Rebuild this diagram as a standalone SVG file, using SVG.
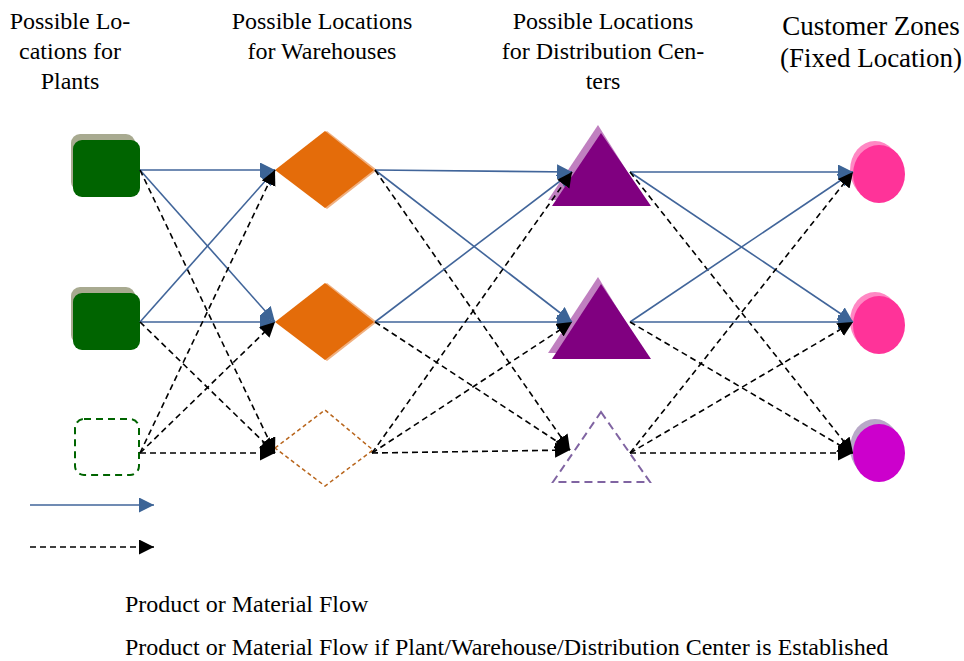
<svg xmlns="http://www.w3.org/2000/svg" width="964" height="661" viewBox="0 0 964 661">
  <style>
    .hdr { font-family: "Liberation Serif", "Times New Roman", serif; font-size: 24px; fill: #000; text-anchor: middle; }
    .hdr2 { font-family: "Liberation Serif", "Times New Roman", serif; font-size: 27px; fill: #000; text-anchor: middle; }
    .lbl { font-family: "Liberation Serif", "Times New Roman", serif; font-size: 24px; fill: #000; }
    .flow { fill: none; stroke: #41659a; stroke-width: 1.6; marker-end: url(#blueHead); }
    .opt { fill: none; stroke: #000; stroke-width: 1.6; stroke-dasharray: 6 4; marker-end: url(#blackHead); }
  </style>
  <defs>
    <marker id="blueHead" markerUnits="userSpaceOnUse" markerWidth="16" markerHeight="16" refX="15" refY="7.5" orient="auto">
      <path d="M0,0 L15,7.5 L0,15 z" fill="#3c6496"/>
    </marker>
    <marker id="blackHead" markerUnits="userSpaceOnUse" markerWidth="16" markerHeight="16" refX="15" refY="7.5" orient="auto">
      <path d="M0,0 L15,7.5 L0,15 z" fill="#000"/>
    </marker>
  </defs>

  <rect width="964" height="661" fill="#fff"/>

  <!-- column headings -->
  <g id="headings">
    <text class="hdr" x="70" y="29">Possible Lo-</text>
    <text class="hdr" x="70" y="59">cations for</text>
    <text class="hdr" x="70" y="89">Plants</text>
    <text class="hdr" x="322" y="29">Possible Locations</text>
    <text class="hdr" x="322" y="59">for Warehouses</text>
    <text class="hdr" x="603" y="29">Possible Locations</text>
    <text class="hdr" x="603" y="59">for Distribution Cen-</text>
    <text class="hdr" x="603" y="89">ters</text>
    <text class="hdr2" x="871" y="35">Customer Zones</text>
    <text class="hdr2" x="871" y="67">(Fixed Location)</text>
  </g>

  <!-- plants -->
  <g id="plant1">
    <rect x="71" y="134" width="64" height="57" rx="9" fill="#a8aa90"/>
    <rect x="73" y="140" width="67" height="57" rx="9" fill="#006400"/>
  </g>
  <g id="plant2">
    <rect x="71" y="287" width="64" height="57" rx="9" fill="#a8aa90"/>
    <rect x="73" y="293" width="67" height="57" rx="9" fill="#006400"/>
  </g>
  <g id="plant3">
    <rect x="75" y="419" width="64" height="56" rx="9" fill="none" stroke="#006400" stroke-width="2" stroke-dasharray="7 5"/>
  </g>

  <!-- warehouses -->
  <g id="warehouse1">
    <polygon points="277,170 327,131 377,170 327,209" fill="#f0b080"/>
    <polygon points="275,170 325,131 374,170 325,208" fill="#e46c0a"/>
  </g>
  <g id="warehouse2">
    <polygon points="277,322 327,283 377,322 327,361" fill="#f0b080"/>
    <polygon points="275,322 325,283 374,322 325,360" fill="#e46c0a"/>
  </g>
  <g id="warehouse3">
    <polygon points="275,448 325,410 373,450 325,486" fill="none" stroke="#b8651c" stroke-width="1.5" stroke-dasharray="4 3"/>
  </g>

  <!-- distribution centers -->
  <g id="dc1">
    <polygon points="598,125 645,200 548,200" fill="#c080c0"/>
    <polygon points="601,133 651,206 552,206" fill="#800080"/>
  </g>
  <g id="dc2">
    <polygon points="598,277 645,353 548,353" fill="#c080c0"/>
    <polygon points="601,284 651,359 552,359" fill="#800080"/>
  </g>
  <g id="dc3">
    <polygon points="601,412 650,482 553,482" fill="none" stroke="#8064a2" stroke-width="2" stroke-dasharray="8 5"/>
  </g>

  <!-- customer zones -->
  <g id="customer1">
    <ellipse cx="875" cy="170" rx="25" ry="29" fill="#ff88c4"/>
    <ellipse cx="879" cy="174" rx="26" ry="29" fill="#ff3399"/>
  </g>
  <g id="customer2">
    <ellipse cx="875" cy="321" rx="25" ry="29" fill="#ff88c4"/>
    <ellipse cx="879" cy="325" rx="26" ry="29" fill="#ff3399"/>
  </g>
  <g id="customer3">
    <ellipse cx="875" cy="448" rx="25" ry="29" fill="#b8a8c8"/>
    <ellipse cx="879" cy="453" rx="26" ry="29" fill="#cc00cc"/>
  </g>

  <!-- connectors -->
  <g id="connectors">
    <!-- plants to warehouses -->
    <path class="flow" d="M140,170 L275,170"/>
    <path class="flow" d="M140,170 L275,322"/>
    <path class="opt" d="M140,170 L275,453"/>
    <path class="flow" d="M140,322 L275,170"/>
    <path class="flow" d="M140,322 L275,322"/>
    <path class="opt" d="M140,322 L275,453"/>
    <path class="opt" d="M140,453 L275,170"/>
    <path class="opt" d="M140,453 L275,322"/>
    <path class="opt" d="M140,453 L275,453"/>
    <!-- warehouses to distribution centers -->
    <path class="flow" d="M375,170 L572,172"/>
    <path class="flow" d="M375,170 L572,322"/>
    <path class="opt" d="M375,170 L570,450"/>
    <path class="flow" d="M375,322 L572,172"/>
    <path class="flow" d="M375,322 L572,322"/>
    <path class="opt" d="M375,322 L570,450"/>
    <path class="opt" d="M372,453 L572,172"/>
    <path class="opt" d="M372,453 L572,322"/>
    <path class="opt" d="M372,453 L570,450"/>
    <!-- distribution centers to customer zones -->
    <path class="flow" d="M630,172 L853,172"/>
    <path class="flow" d="M630,172 L853,322"/>
    <path class="opt" d="M630,172 L853,453"/>
    <path class="flow" d="M630,322 L853,172"/>
    <path class="flow" d="M630,322 L853,322"/>
    <path class="opt" d="M630,322 L853,453"/>
    <path class="opt" d="M630,453 L853,172"/>
    <path class="opt" d="M630,453 L853,322"/>
    <path class="opt" d="M630,453 L853,453"/>
  </g>

  <!-- legend -->
  <g id="legend">
    <path class="flow" d="M30,505 L154,505"/>
    <path class="opt" d="M30,547 L154,547"/>
    <text class="lbl" x="125" y="612">Product or Material Flow</text>
    <text class="lbl" x="125" y="655">Product or Material Flow if Plant/Warehouse/Distribution Center is Established</text>
  </g>
</svg>
